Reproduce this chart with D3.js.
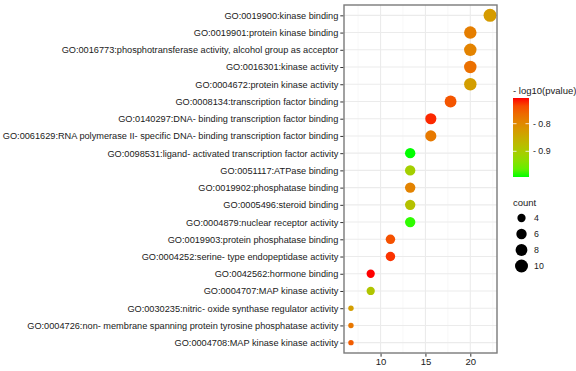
<!DOCTYPE html>
<html>
<head>
<meta charset="utf-8">
<script src="https://cdn.jsdelivr.net/npm/d3@7"></script>
<style>
  body { margin: 0; background: #fff; }
  text { font-family: "Liberation Sans", Arial, sans-serif; }
</style>
</head>
<body>
<div id="chart"></div>
<script>
const width = 576;
const height = 371;

// GO terms, top to bottom
const terms = [
    "GO:0019900:kinase binding",
    "GO:0019901:protein kinase binding",
    "GO:0016773:phosphotransferase activity, alcohol group as acceptor",
    "GO:0016301:kinase activity",
    "GO:0004672:protein kinase activity",
    "GO:0008134:transcription factor binding",
    "GO:0140297:DNA- binding transcription factor binding",
    "GO:0061629:RNA polymerase II- specific DNA- binding transcription factor binding",
    "GO:0098531:ligand- activated transcription factor activity",
    "GO:0051117:ATPase binding",
    "GO:0019902:phosphatase binding",
    "GO:0005496:steroid binding",
    "GO:0004879:nuclear receptor activity",
    "GO:0019903:protein phosphatase binding",
    "GO:0004252:serine- type endopeptidase activity",
    "GO:0042562:hormone binding",
    "GO:0004707:MAP kinase activity",
    "GO:0030235:nitric- oxide synthase regulator activity",
    "GO:0004726:non- membrane spanning protein tyrosine phosphatase activity",
    "GO:0004708:MAP kinase kinase activity"
];

const ratio = [22.2, 20.0, 20.0, 20.0, 20.0, 17.8, 15.6, 15.6, 13.3, 13.3,
               13.3, 13.3, 13.3, 11.1, 11.1, 8.9, 8.9, 6.7, 6.7, 6.7];

const counts = [10, 9, 9, 9, 9, 8, 7, 7, 6, 6, 6, 6, 6, 5, 5, 4, 4, 3, 3, 3];

const logp = [-0.825, -0.787, -0.793, -0.770, -0.830, -0.744, -0.716, -0.781, -0.993, -0.907,
              -0.793, -0.884, -0.987, -0.741, -0.721, -0.707, -0.890, -0.830, -0.778, -0.750];

const xTicks = [10, 15, 20];
const xMinor = [7.5, 12.5, 17.5, 22.5];
const colorTicks = [-0.8, -0.9];
const sizeTicks = [4, 6, 8, 10];

const panel = {left: 344, top: 5, right: 497, bottom: 353};

const svg = d3.select("#chart").append("svg")
    .attr("width", width)
    .attr("height", height);

const data = terms.map((t, i) => ({term: t, x: ratio[i], count: counts[i], p: logp[i]}));

// ggplot style 5% expansion
const xExt = d3.extent(ratio);
const xPad = (xExt[1] - xExt[0]) * 0.05;
const x = d3.scaleLinear()
    .domain([xExt[0] - xPad, xExt[1] + xPad])
    .range([panel.left, panel.right]);

const step = (panel.bottom - panel.top) / (terms.length - 1 + 1.2);
const y = d3.scalePoint()
    .domain(terms)
    .range([panel.top + 0.6 * step, panel.bottom - 0.6 * step]);

const pExt = d3.extent(logp);
const color = d3.scaleLinear()
    .domain(pExt)
    .range(["#00ff00", "#ff0000"])
    .interpolate(d3.interpolateLab);

const cExt = d3.extent(counts);
const radius = c => 2.7 + 3.8 * Math.sqrt((c - cExt[0]) / (cExt[1] - cExt[0]));

// panel background and grid
svg.append("rect")
    .attr("x", panel.left).attr("y", panel.top)
    .attr("width", panel.right - panel.left).attr("height", panel.bottom - panel.top)
    .attr("fill", "white");

svg.append("g").selectAll("line")
    .data(xMinor)
    .join("line")
    .attr("x1", d => x(d)).attr("x2", d => x(d))
    .attr("y1", panel.top).attr("y2", panel.bottom)
    .attr("stroke", "#f4f4f4").attr("stroke-width", 0.6);

svg.append("g").selectAll("line")
    .data(xTicks)
    .join("line")
    .attr("x1", d => x(d)).attr("x2", d => x(d))
    .attr("y1", panel.top).attr("y2", panel.bottom)
    .attr("stroke", "#ebebeb").attr("stroke-width", 1.1);

svg.append("g").selectAll("line")
    .data(terms)
    .join("line")
    .attr("x1", panel.left).attr("x2", panel.right)
    .attr("y1", d => y(d)).attr("y2", d => y(d))
    .attr("stroke", "#ebebeb").attr("stroke-width", 1.1);

// points
svg.append("g").selectAll("circle")
    .data(data)
    .join("circle")
    .attr("cx", d => x(d.x))
    .attr("cy", d => y(d.term))
    .attr("r", d => radius(d.count))
    .attr("fill", d => color(d.p));

// border
svg.append("rect")
    .attr("x", panel.left).attr("y", panel.top)
    .attr("width", panel.right - panel.left).attr("height", panel.bottom - panel.top)
    .attr("fill", "none")
    .attr("stroke", "#7a7a7a")
    .attr("stroke-width", 1.4);

// axes
const yAxis = svg.append("g")
    .attr("transform", `translate(${panel.left - 0.7},0)`)
    .call(d3.axisLeft(y).tickSize(3).tickPadding(2));
yAxis.select(".domain").remove();
yAxis.selectAll(".tick line").attr("stroke", "#333").attr("stroke-width", 1);
yAxis.selectAll(".tick text")
    .attr("fill", "#1a1a1a")
    .style("font-size", "9.2px");

const xAxis = svg.append("g")
    .attr("transform", `translate(0,${panel.bottom + 0.7})`)
    .call(d3.axisBottom(x).tickValues(xTicks).tickSize(3).tickPadding(2));
xAxis.select(".domain").remove();
xAxis.selectAll(".tick line").attr("stroke", "#333").attr("stroke-width", 1);
xAxis.selectAll(".tick text")
    .attr("fill", "#1a1a1a")
    .style("font-size", "9.5px");

// colour legend
const lg = svg.append("g");
lg.append("text")
    .attr("x", 513).attr("y", 94)
    .style("font-size", "9.5px")
    .attr("fill", "#1a1a1a")
    .text("- log10(pvalue)");

const bar = {x: 513, y: 98, w: 16, h: 79};
const cb = d3.scaleLinear().domain(pExt).range([bar.y + bar.h, bar.y]);

const grad = svg.append("defs").append("linearGradient")
    .attr("id", "pgrad")
    .attr("x1", 0).attr("y1", 1).attr("x2", 0).attr("y2", 0);
d3.range(0, 1.0001, 0.1).forEach(t => {
    grad.append("stop")
        .attr("offset", t)
        .attr("stop-color", color(pExt[0] + t * (pExt[1] - pExt[0])));
});

lg.append("rect")
    .attr("x", bar.x).attr("y", bar.y)
    .attr("width", bar.w).attr("height", bar.h)
    .attr("fill", "url(#pgrad)");

colorTicks.forEach(v => {
    lg.append("line")
        .attr("x1", bar.x).attr("x2", bar.x + 3.5)
        .attr("y1", cb(v)).attr("y2", cb(v))
        .attr("stroke", "white").attr("stroke-width", 0.8);
    lg.append("line")
        .attr("x1", bar.x + bar.w - 3.5).attr("x2", bar.x + bar.w)
        .attr("y1", cb(v)).attr("y2", cb(v))
        .attr("stroke", "white").attr("stroke-width", 0.8);
    lg.append("text")
        .attr("x", bar.x + bar.w + 4).attr("y", cb(v))
        .attr("dy", "0.35em")
        .style("font-size", "8.8px")
        .attr("fill", "#1a1a1a")
        .text("- " + Math.abs(v).toFixed(1));
});

// size legend
lg.append("text")
    .attr("x", 513).attr("y", 206)
    .style("font-size", "9.5px")
    .attr("fill", "#1a1a1a")
    .text("count");

const sy = d3.scalePoint().domain(sizeTicks).range([218, 266]);
sizeTicks.forEach(c => {
    lg.append("circle")
        .attr("cx", 521.5).attr("cy", sy(c))
        .attr("r", radius(c))
        .attr("fill", "black");
    lg.append("text")
        .attr("x", 534).attr("y", sy(c))
        .attr("dy", "0.35em")
        .style("font-size", "8.8px")
        .attr("fill", "#1a1a1a")
        .text(c);
});
</script>
</body>
</html>
